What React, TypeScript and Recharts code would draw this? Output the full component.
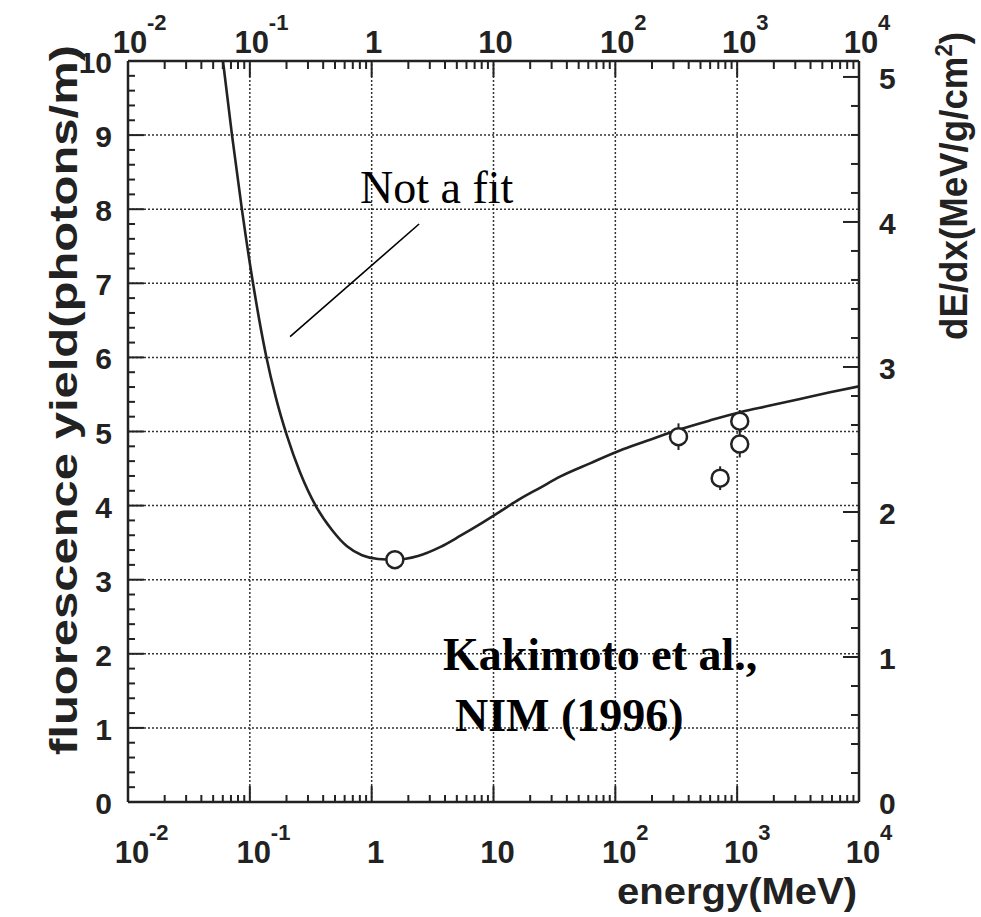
import React from 'react';
import { ComposedChart, Line, Scatter, ErrorBar, XAxis, YAxis, ReferenceLine } from 'recharts';

// curve (energy in MeV, yield in photons/m)
const curveEnergy = [
  0.0602, 0.0714, 0.0862, 0.1062, 0.1357, 0.164, 0.2019, 0.2581, 0.3493, 0.4726, 0.6275, 0.8331, 1.127, 1.554,
  2.401, 3.639, 5.311, 7.75, 11.31, 16.51, 24.09, 35.15, 61.97, 115.6, 192.6, 339.6, 598.6, 1055, 1860, 3280, 5783, 10000,
];
const curveYield = [
  10.0, 9.0, 7.99, 7.0, 6.03, 5.45, 4.94, 4.45, 3.99, 3.67, 3.45, 3.33, 3.28, 3.27,
  3.32, 3.44, 3.59, 3.75, 3.92, 4.09, 4.24, 4.39, 4.57, 4.76, 4.89, 5.03, 5.15, 5.26, 5.35, 5.44, 5.53, 5.61,
];

// measured points
const pointEnergy = [1.55, 330, 725, 1050, 1050];
const pointYield = [3.27, 4.93, 4.37, 5.14, 4.83];
const pointErr = [0.05, 0.18, 0.16, 0.15, 0.18];

// axes
const decades = [0.01, 0.1, 1, 10, 100, 1000, 10000];
const decadeBase = ['10', '10', '1', '10', '10', '10', '10'];
const decadeExp = ['-2', '-1', '', '', '2', '3', '4'];
const leftLabels = ['0', '1', '2', '3', '4', '5', '6', '7', '8', '9', '10'];
const rightLabels = ['0', '1', '2', '3', '4', '5'];

const curveData = curveEnergy.map((e, i) => ({ e, y: curveYield[i] }));
const pointData = pointEnergy.map((e, i) => ({ e, y: pointYield[i], err: pointErr[i] }));

const xTicks: number[] = [];
decades.forEach((d, i) => {
  xTicks.push(d);
  if (i < decades.length - 1) [2, 3, 4, 5, 6, 7, 8, 9].forEach((m) => xTicks.push(+(d * m).toPrecision(3)));
});
const leftTicks = Array.from({ length: 51 }, (_, i) => +(i * 0.2).toFixed(1));
const rightTicks = Array.from({ length: 26 }, (_, i) => +(i * 0.2).toFixed(1));

const INK = '#222';
const SANS = '"Liberation Sans", Arial, Helvetica, sans-serif';
const SERIF = '"Liberation Serif", "Times New Roman", serif';

const decadeIndex = (v: number) => decades.findIndex((d) => Math.abs(d - v) / d < 1e-6);
const isInt = (v: number) => Math.abs(v - Math.round(v)) < 1e-6;

function BottomTick({ x, y, payload }: any) {
  const i = decadeIndex(payload.value);
  const len = i >= 0 ? 16 : 7;
  return (
    <g>
      <line x1={x} y1={y} x2={x} y2={y - len} stroke={INK} strokeWidth={2} />
      {i >= 0 && (
        <g fontFamily={SANS} fontWeight="bold" fill={INK}>
          <text x={x + 4} y={y + 61} textAnchor="middle" fontSize={31}>{decadeBase[i]}</text>
          {decadeExp[i] && (
            <text x={x + 21} y={y + 38} fontSize={22}>{decadeExp[i]}</text>
          )}
        </g>
      )}
    </g>
  );
}

function TopTick({ x, y, payload }: any) {
  const i = decadeIndex(payload.value);
  const len = i >= 0 ? 16 : 8;
  return (
    <g>
      <line x1={x} y1={y} x2={x} y2={y + len} stroke={INK} strokeWidth={2} />
      {i >= 0 && (
        <g fontFamily={SANS} fontWeight="bold" fill={INK}>
          <text x={x + 2} y={y - 8} textAnchor="middle" fontSize={31}>{decadeBase[i]}</text>
          {decadeExp[i] && (
            <text x={x + 19} y={y - 31} fontSize={22}>{decadeExp[i]}</text>
          )}
        </g>
      )}
    </g>
  );
}

function LeftTick({ x, y, payload }: any) {
  const major = isInt(payload.value);
  return (
    <g>
      <line x1={x} y1={y} x2={x + (major ? 16 : 7)} y2={y} stroke={INK} strokeWidth={2} />
      {major && (
        <text x={x - 16} y={y + 12} textAnchor="end" fontFamily={SANS} fontWeight="bold" fontSize={30} fill={INK}>
          {leftLabels[Math.round(payload.value)]}
        </text>
      )}
    </g>
  );
}

function RightTick({ x, y, payload }: any) {
  const major = isInt(payload.value);
  return (
    <g>
      <line x1={x} y1={y} x2={x - (major ? 16 : 8)} y2={y} stroke={INK} strokeWidth={2} />
      {major && (
        <text x={x + 20} y={y + 12} fontFamily={SANS} fontWeight="bold" fontSize={30} fill={INK}>
          {rightLabels[Math.round(payload.value)]}
        </text>
      )}
    </g>
  );
}

const renderCircle = (props: any) => (
  <circle cx={props.cx} cy={props.cy} r={8.5} fill="#fff" stroke={INK} strokeWidth={2.5} />
);

export default function App() {
  const grid = { stroke: '#333', strokeWidth: 1.5, strokeDasharray: '2 2' };
  const axisLine = { stroke: INK, strokeWidth: 2.5 };
  return (
    <div style={{ position: 'absolute', left: 0, top: 0, width: 981, height: 917, background: '#fff' }}>
      <ComposedChart width={981} height={917} margin={{ top: 0, right: 0, bottom: 0, left: 0 }}>
        <XAxis
          xAxisId="b"
          dataKey="e"
          type="number"
          scale="log"
          domain={[0.01, 10000]}
          allowDataOverflow
          ticks={xTicks}
          interval={0}
          height={115}
          tickSize={0}
          tickMargin={0}
          tickLine={false}
          tick={<BottomTick />}
          axisLine={axisLine}
        />
        <XAxis
          xAxisId="t"
          dataKey="e"
          orientation="top"
          type="number"
          scale="log"
          domain={[0.01, 10000]}
          allowDataOverflow
          ticks={xTicks}
          interval={0}
          height={61}
          tickSize={0}
          tickMargin={0}
          tickLine={false}
          tick={<TopTick />}
          axisLine={axisLine}
        />
        <YAxis
          yAxisId="l"
          dataKey="y"
          type="number"
          domain={[0, 10]}
          allowDataOverflow
          ticks={leftTicks}
          interval={0}
          width={128}
          tickSize={0}
          tickMargin={0}
          tickLine={false}
          tick={<LeftTick />}
          axisLine={axisLine}
        />
        <YAxis
          yAxisId="r"
          orientation="right"
          type="number"
          domain={[0, 5.11]}
          allowDataOverflow
          ticks={rightTicks}
          interval={0}
          width={122}
          tickSize={0}
          tickMargin={0}
          tickLine={false}
          tick={<RightTick />}
          axisLine={axisLine}
        />
        {decades.slice(1, -1).map((d) => (
          <ReferenceLine key={'v' + d} x={d} xAxisId="b" yAxisId="l" {...grid} />
        ))}
        {leftLabels.slice(1, -1).map((s) => (
          <ReferenceLine key={'h' + s} y={Number(s)} xAxisId="b" yAxisId="l" {...grid} />
        ))}
        <ReferenceLine
          xAxisId="b"
          yAxisId="l"
          segment={[{ x: 0.214, y: 6.28 }, { x: 2.45, y: 7.8 }]}
          stroke="#000"
          strokeWidth={1.6}
        />
        {/* invisible copy so the top axis has a series of its own */}
        <Line
          data={curveData}
          xAxisId="t"
          yAxisId="l"
          dataKey="y"
          stroke="none"
          dot={false}
          activeDot={false}
          legendType="none"
          isAnimationActive={false}
        />
        <Line
          data={curveData}
          xAxisId="b"
          yAxisId="l"
          dataKey="y"
          type="monotone"
          stroke={INK}
          strokeWidth={2.6}
          dot={false}
          isAnimationActive={false}
        />
        <Scatter
          data={pointData}
          xAxisId="b"
          yAxisId="l"
          dataKey="y"
          shape={renderCircle}
          isAnimationActive={false}
        >
          <ErrorBar dataKey="err" direction="y" width={0} stroke={INK} strokeWidth={2} />
        </Scatter>
      </ComposedChart>
      <svg width={981} height={917} style={{ position: 'absolute', left: 0, top: 0, pointerEvents: 'none' }}>
        <g fontFamily={SANS} fontWeight="bold" fill={INK}>
          <text transform="translate(77,400) rotate(-90)" textAnchor="middle" fontSize={39} textLength={710} lengthAdjust="spacingAndGlyphs">
            fluorescence yield(photons/m)
          </text>
          <text transform="translate(967,186) rotate(-90)" textAnchor="middle" fontSize={38} textLength={308} lengthAdjust="spacingAndGlyphs">
            dE/dx(MeV/g/cm<tspan fontSize={23} dy={-15}>2</tspan><tspan dy={15}>)</tspan>
          </text>
          <text x={737} y={904} textAnchor="middle" fontSize={37} textLength={240} lengthAdjust="spacingAndGlyphs">
            energy(MeV)
          </text>
        </g>
        <text x={360} y={203} fontFamily={SERIF} fontSize={46} fill="#000">Not a fit</text>
        <g fontFamily={SERIF} fontWeight="bold" fontSize={46} fill="#000">
          <text x={443} y={670}>Kakimoto et al.,</text>
          <text x={455} y={731}>NIM (1996)</text>
        </g>
      </svg>
    </div>
  );
}
